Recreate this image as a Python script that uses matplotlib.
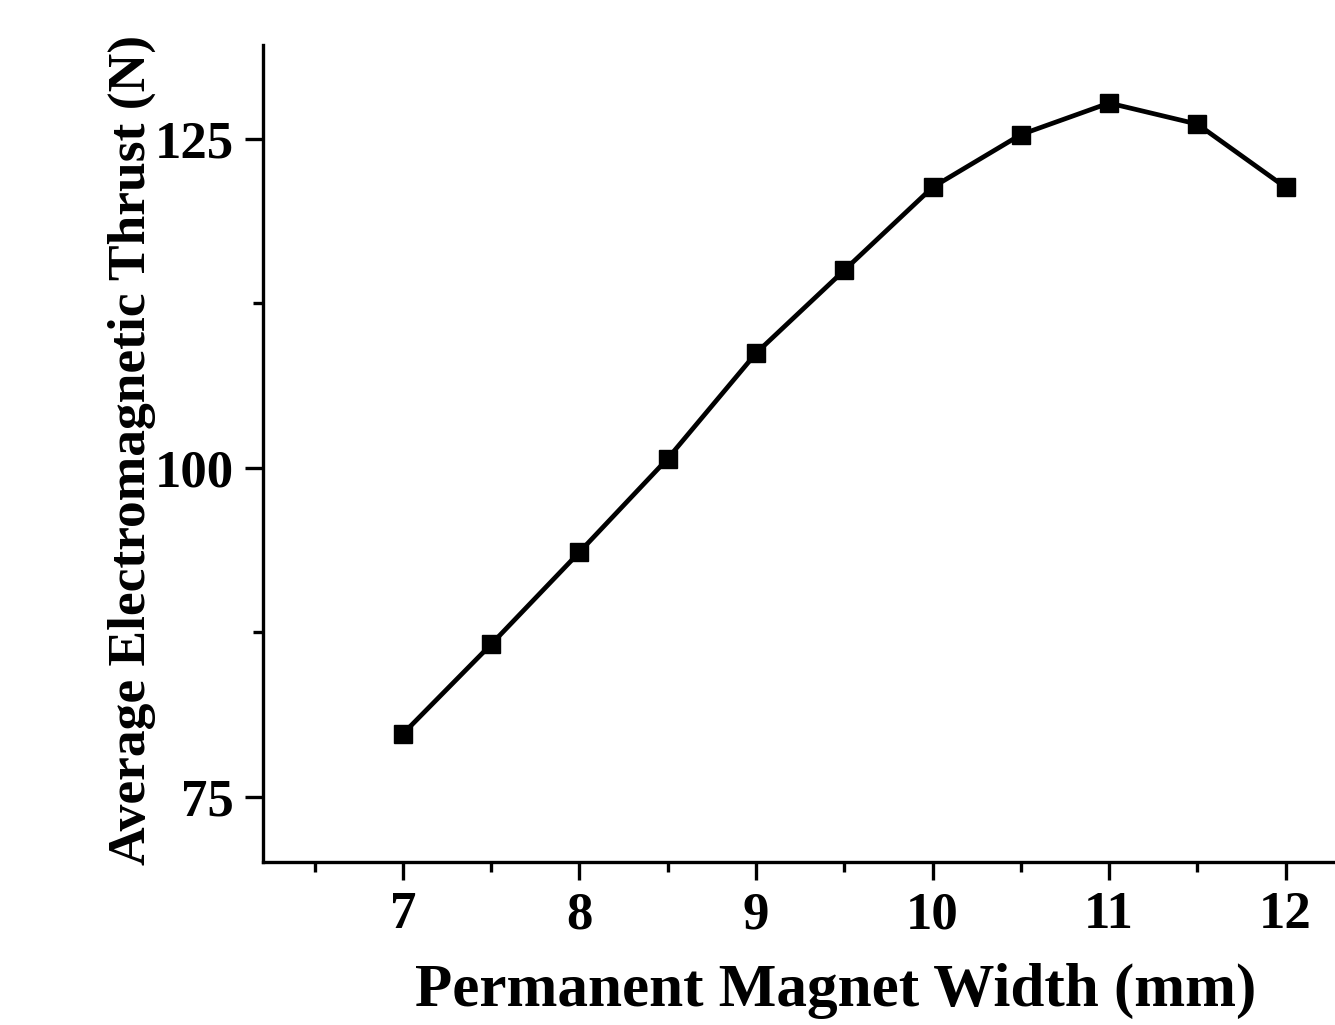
import matplotlib
matplotlib.use("Agg")
import matplotlib.pyplot as plt
from matplotlib.ticker import MultipleLocator

width_mm = [7, 7.5, 8, 8.5, 9, 9.5, 10, 10.5, 11, 11.5, 12]
thrust = [79.8, 86.6, 93.6, 100.7, 108.7, 115.0, 121.3, 125.3, 127.7, 126.1, 121.3]

plt.rcParams['font.family'] = ['Liberation Serif', 'DejaVu Serif']
plt.rcParams['font.weight'] = 'bold'

fig = plt.figure(figsize=(13.35, 10.25), dpi=100)
ax = fig.add_axes([0.197, 0.159, 0.803, 0.797])

ax.plot(width_mm, thrust, color='black', linewidth=3.4, marker='s',
        markersize=13, clip_on=False)

ax.set_xlim(6.207, 12.28)
ax.set_ylim(70.06, 132.1)
ax.xaxis.set_major_locator(MultipleLocator(1))
ax.xaxis.set_minor_locator(MultipleLocator(0.5))
ax.yaxis.set_major_locator(MultipleLocator(25))
ax.yaxis.set_minor_locator(MultipleLocator(12.5))

for s in ['top', 'right']:
    ax.spines[s].set_visible(False)
for s in ['left', 'bottom']:
    ax.spines[s].set_linewidth(2.4)

ax.tick_params(which='major', direction='out', length=13, width=2.4,
               labelsize=38, pad=8)
ax.tick_params(which='minor', direction='out', length=7, width=2.4)

ax.set_xlabel('Permanent Magnet Width (mm)', fontsize=44, fontweight='bold')
ax.xaxis.set_label_coords(0.534, -0.124)
ax.set_ylabel('Average Electromagnetic Thrust (N)', fontsize=38.5, fontweight='bold')
ax.yaxis.set_label_coords(-0.1, 0.505)

fig.savefig('out.png', dpi=100)
